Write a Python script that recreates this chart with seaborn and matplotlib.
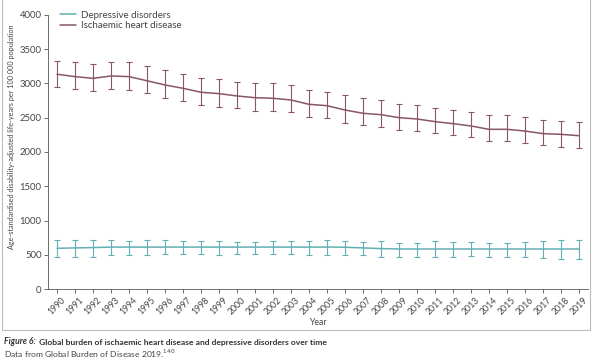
import numpy as np
import pandas as pd
import seaborn as sns
import matplotlib.pyplot as plt
from matplotlib.patches import Rectangle

sns.set_theme(style='white')
plt.rcParams['font.family'] = ['Lato', 'DejaVu Sans']

years = list(range(1990, 2020))

ihd_mean = [3135, 3100, 3075, 3110, 3100, 3040, 2978, 2930, 2872, 2852,
            2818, 2793, 2784, 2759, 2696, 2676, 2613, 2565, 2545, 2501,
            2482, 2443, 2414, 2380, 2331, 2331, 2306, 2268, 2258, 2238]
ihd_upper = [3333, 3320, 3290, 3320, 3320, 3255, 3192, 3143, 3085, 3070,
             3026, 3007, 3000, 2978, 2910, 2882, 2828, 2789, 2759, 2706,
             2686, 2647, 2618, 2579, 2540, 2540, 2506, 2472, 2457, 2443]
ihd_lower = [2954, 2920, 2895, 2920, 2910, 2857, 2788, 2740, 2686, 2657,
             2637, 2603, 2603, 2579, 2506, 2492, 2423, 2389, 2370, 2316,
             2306, 2273, 2248, 2214, 2160, 2160, 2127, 2098, 2069, 2064]

dep_mean = [594, 600, 605, 612, 612, 612, 612, 612, 612, 612,
            612, 612, 612, 612, 612, 612, 610, 600, 590, 584,
            584, 584, 584, 584, 584, 584, 584, 584, 584, 584]
dep_upper = [710, 720, 720, 720, 706, 720, 720, 706, 706, 706,
             691, 691, 706, 706, 706, 720, 706, 691, 706, 676,
             676, 706, 691, 691, 676, 676, 691, 706, 720, 720]
dep_lower = [467, 467, 472, 501, 501, 501, 511, 511, 511, 501,
             511, 511, 511, 511, 501, 501, 501, 501, 472, 471,
             472, 472, 472, 480, 472, 472, 472, 457, 443, 433]

df = pd.DataFrame({
    'Year': years * 2,
    'value': dep_mean + ihd_mean,
    'cause': ['Depressive disorders'] * 30 + ['Ischaemic heart disease'] * 30,
})

dep_color = '#62afb5'
ihd_color = '#8a5568'

fig = plt.figure(figsize=(6, 3.61), dpi=100)
ax = fig.add_axes([0.08, 0.1994, 0.90, 0.7591])

sns.lineplot(data=df, x='Year', y='value', hue='cause',
             palette=[dep_color, ihd_color], linewidth=1.1, ax=ax)

ax.errorbar(years, dep_mean,
            yerr=[np.array(dep_mean) - np.array(dep_lower),
                  np.array(dep_upper) - np.array(dep_mean)],
            fmt='none', ecolor=dep_color, elinewidth=0.8, capsize=2,
            capthick=0.8)
ax.errorbar(years, ihd_mean,
            yerr=[np.array(ihd_mean) - np.array(ihd_lower),
                  np.array(ihd_upper) - np.array(ihd_mean)],
            fmt='none', ecolor=ihd_color, elinewidth=0.8, capsize=2,
            capthick=0.8)

ax.set_xlim(1989.5, 2019.5)
ax.set_ylim(0, 4000)
ax.set_xticks(years)
ax.set_xticklabels([str(y) for y in years], rotation=45, fontsize=6.3,
                   color='#444444')
ax.set_yticks(range(0, 4001, 500))
ax.set_yticklabels([str(v) for v in range(0, 4001, 500)], fontsize=6.8,
                   color='#444444')
ax.tick_params(axis='both', length=3, width=0.6, color='#555555',
               bottom=True, left=True, pad=1.5)
ax.set_xlabel('Year', fontsize=6.3, color='#444444', labelpad=1)
ax.set_ylabel('Age-standardised disability-adjusted life-years per 100 000 population',
              fontsize=5.2, color='#444444', labelpad=5)
ax.yaxis.set_label_coords(-0.062, 0.555)
for side in ['top', 'right']:
    ax.spines[side].set_visible(False)
for side in ['left', 'bottom']:
    ax.spines[side].set_color('#555555')
    ax.spines[side].set_linewidth(0.6)

leg = ax.legend(loc='upper left', bbox_to_anchor=(0.01, 1.04), frameon=False,
                fontsize=7, handlelength=1.6, handletextpad=0.5,
                labelspacing=0.15, borderaxespad=0.3)
for t in leg.get_texts():
    t.set_color('#444444')

# outer frame around the chart panel
fig.patches.append(Rectangle((2 / 600, 1 - 330 / 361), 588 / 600, 330 / 361 + 0.01,
                             transform=fig.transFigure, fill=False,
                             edgecolor='#bbbbbb', linewidth=0.8))

fig_label = fig.text(4 / 600, 1 - 342 / 361, 'Figure 6:', fontsize=6.2,
                     fontweight='bold', fontstyle='italic', color='#333333',
                     va='center')
fig.canvas.draw()
bb = fig_label.get_window_extent()
fig.text((bb.x1 + 3) / 600, 1 - 342 / 361,
         'Global burden of ischaemic heart disease and depressive disorders over time',
         fontsize=6.1, fontweight='bold', color='#333333', va='center')
fig.text(4 / 600, 1 - 354 / 361, r'Data from Global Burden of Disease 2019.$^{140}$',
         fontsize=6.1, color='#444444', va='center')

fig.savefig('out.png', dpi=100, facecolor='white')
